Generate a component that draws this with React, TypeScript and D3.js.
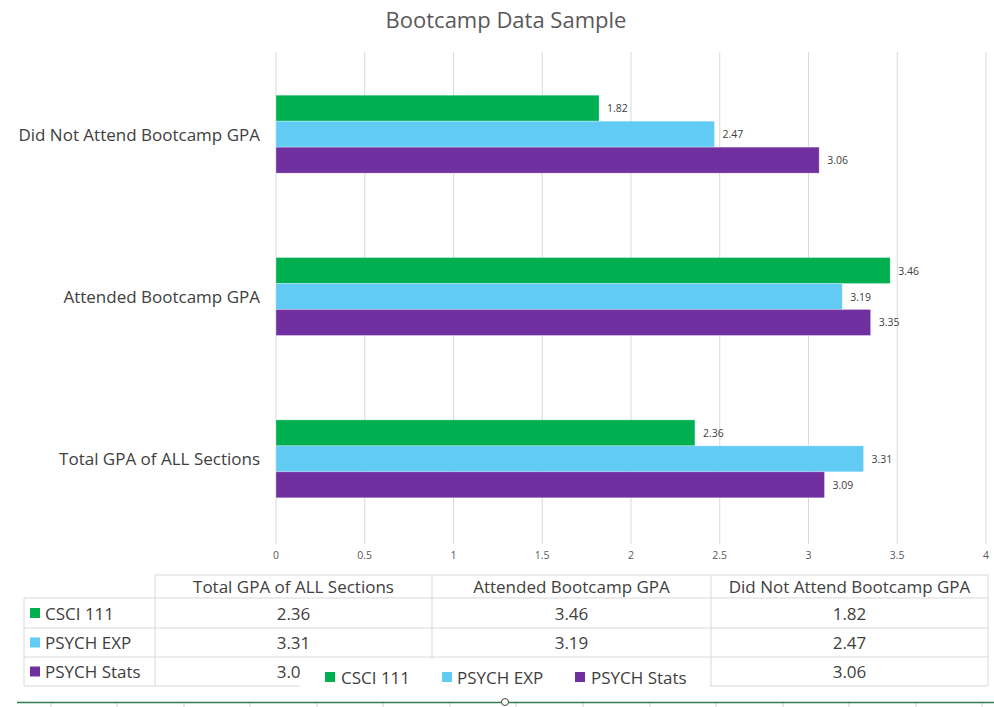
import React from "react";
import * as d3 from "d3";

const categories = ["Did Not Attend Bootcamp GPA", "Attended Bootcamp GPA", "Total GPA of ALL Sections"];
const tableColumns = ["Total GPA of ALL Sections", "Attended Bootcamp GPA", "Did Not Attend Bootcamp GPA"];
const seriesNames = ["CSCI 111", "PSYCH EXP", "PSYCH Stats"];
const seriesColors = ["#00B050", "#61CBF3", "#7030A0"];
// values keyed by tableColumns order
const csci111 = [2.36, 3.46, 1.82];
const psychExp = [3.31, 3.19, 2.47];
const psychStats = [3.09, 3.35, 3.06];
const xTicks = [0, 0.5, 1, 1.5, 2, 2.5, 3, 3.5, 4];
const bottomTicks = [51, 117, 184, 250, 317, 383, 450, 516, 583, 650, 716, 783, 849, 916, 982];

const seriesValues = [csci111, psychExp, psychStats];
const FONT = "'Open Sans', sans-serif";

export default function App() {
  const W = 994, H = 707;
  const x = d3.scaleLinear().domain([0, 4]).range([276, 986]);
  const y = d3.scaleBand<string>().domain(categories).range([53, 540]).padding(0);
  const groupH = y.bandwidth() * 0.48;
  const inner = d3.scaleBand<string>().domain(seriesNames).range([0, groupH]).padding(0);

  const valueOf = (si: number, cat: string) => seriesValues[si][tableColumns.indexOf(cat)];

  // table geometry
  const colX = [155, 432, 711, 988];
  const rowY = [575, 598, 628, 657, 686];
  const tableLeft = 24;
  const grid = "#d9d9d9";

  return (
    <svg width={W} height={H} style={{ position: "absolute", left: 0, top: 0, background: "#fff" }} fontFamily={FONT}>
      <rect x={0} y={0} width={W} height={H} fill="#fff" />
      <text x={506} y={28} textAnchor="middle" fontSize={22} fill="#595959">Bootcamp Data Sample</text>

      {xTicks.map((t) => (
        <g key={t}>
          <line x1={x(t)} x2={x(t)} y1={52} y2={544} stroke={grid} strokeWidth={1} />
          <text x={x(t)} y={559} textAnchor="middle" fontSize={10.5} fill="#595959">{String(t)}</text>
        </g>
      ))}

      {categories.map((cat) => {
        const y0 = (y(cat) as number) + (y.bandwidth() - groupH) / 2;
        return (
          <g key={cat}>
            <text x={260} y={(y(cat) as number) + y.bandwidth() / 2} textAnchor="end" dominantBaseline="central" fontSize={17} fill="#404040">{cat}</text>
            {seriesNames.map((s, si) => {
              const v = valueOf(si, cat);
              const by = y0 + (inner(s) as number);
              return (
                <g key={s}>
                  <rect x={x(0)} y={by} width={x(v) - x(0)} height={inner.bandwidth()} fill={seriesColors[si]} stroke="#ffffff" strokeOpacity={0.35} strokeWidth={0.8} />
                  <text x={x(v) + 8} y={by + inner.bandwidth() / 2} dominantBaseline="central" fontSize={10.5} fill="#404040">{v.toFixed(2)}</text>
                </g>
              );
            })}
          </g>
        );
      })}

      {/* data table */}
      <g>
        <line x1={colX[0]} x2={colX[3]} y1={rowY[0]} y2={rowY[0]} stroke={grid} />
        {rowY.slice(1).map((ry) => (
          <line key={ry} x1={tableLeft} x2={colX[3]} y1={ry} y2={ry} stroke={grid} />
        ))}
        <line x1={tableLeft} x2={tableLeft} y1={rowY[1]} y2={rowY[4]} stroke={grid} />
        {colX.map((cx) => (
          <line key={cx} x1={cx} x2={cx} y1={rowY[0]} y2={rowY[4]} stroke={grid} />
        ))}
        {tableColumns.map((c, ci) => (
          <text key={c} x={(colX[ci] + colX[ci + 1]) / 2} y={(rowY[0] + rowY[1]) / 2} textAnchor="middle" dominantBaseline="central" fontSize={17} fill="#404040">{c}</text>
        ))}
        {seriesNames.map((s, si) => {
          const cy = (rowY[si + 1] + rowY[si + 2]) / 2;
          return (
            <g key={s}>
              <rect x={30} y={cy - 5} width={10} height={10} fill={seriesColors[si]} />
              <text x={45} y={cy} dominantBaseline="central" fontSize={17} fill="#404040">{s}</text>
              {seriesValues[si].map((v, ci) => (
                <text key={ci} x={(colX[ci] + colX[ci + 1]) / 2} y={cy} textAnchor="middle" dominantBaseline="central" fontSize={17} fill="#404040">{v.toFixed(2)}</text>
              ))}
            </g>
          );
        })}
      </g>

      {/* legend box overlapping table */}
      <g>
        <rect x={300} y={659} width={410} height={33} fill="#fff" />
        {[{ sx: 325, tx: 341 }, { sx: 442, tx: 457 }, { sx: 575, tx: 591 }].map((p, i) => (
          <g key={i}>
            <rect x={p.sx} y={672} width={10} height={10} fill={seriesColors[i]} />
            <text x={p.tx} y={677} dominantBaseline="central" fontSize={17} fill="#404040">{seriesNames[i]}</text>
          </g>
        ))}
      </g>

      {/* bottom selection line */}
      {bottomTicks.map((bx) => (
        <line key={bx} x1={bx} x2={bx} y1={703} y2={707} stroke="#d0d0d0" />
      ))}
      <line x1={17} x2={994} y1={702.5} y2={702.5} stroke="#2e7d4f" strokeWidth={1.5} />
      <circle cx={505} cy={702} r={3.5} fill="#fff" stroke="#444" strokeWidth={1} />
    </svg>
  );
}
